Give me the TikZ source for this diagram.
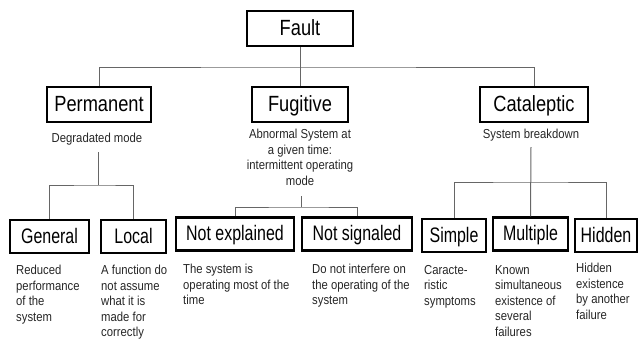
\documentclass[tikz,border=0pt]{standalone}
\usepackage{fontspec}
\newfontfamily\headfont[FakeStretch=0.83]{Liberation Sans}
\newfontfamily\leaffont[FakeStretch=0.76]{Liberation Sans}
\newfontfamily\notefont[FakeStretch=0.87]{Liberation Sans}
\begin{document}
\begin{tikzpicture}[x=1pt,y=-1pt,
  headbox/.style={draw,line width=2.3pt,inner sep=0pt,minimum height=35pt,
    text height=17pt,text depth=3pt,
    font=\headfont\fontsize{22}{24}\selectfont},
  leafbox/.style={draw,line width=2.3pt,inner sep=0pt,minimum height=33pt,
    text height=16pt,text depth=3pt,
    font=\leaffont\fontsize{21}{23}\selectfont},
  note/.style={inner sep=0pt,text=black!85,
    font=\notefont\fontsize{13}{15.5}\selectfont},
  link/.style={draw=black!60,line width=1pt}]
\useasboundingbox (0,0) rectangle (638,338);

% top level
\node[headbox,minimum width=106pt] (fault) at (300,28.5) {Fault};
\node[headbox,minimum width=104pt] (perm) at (99,104.5) {Permanent};
\node[headbox,minimum width=96pt]  (fug)  at (300,104.5) {Fugitive};
\node[headbox,minimum width=108pt] (cata) at (534,104.5) {Cataleptic};

% category descriptions
\node[note,anchor=north,align=center] (permd) at (97,133) {Degradated mode};
\node[note,anchor=north,align=center] (fugd) at (300,129)
  {Abnormal System at\\a given time:\\intermittent operating\\mode};
\node[note,anchor=north,align=center] (catad) at (531,129) {System breakdown};

% leaves
\node[leafbox,minimum width=79pt]  (gen)  at (49.5,236.5) {General};
\node[leafbox,minimum width=65pt]  (loc)  at (133.5,236.5) {Local};
\node[leafbox,minimum width=118pt] (nexp) at (235,234) {Not explained};
\node[leafbox,minimum width=110pt] (nsig) at (357,234) {Not signaled};
\node[leafbox,minimum width=64pt]  (simp) at (454,235.5) {Simple};
\node[leafbox,minimum width=75pt]  (mult) at (530.5,234) {Multiple};
\node[leafbox,minimum width=62pt]  (hid)  at (606,235.5) {Hidden};

% leaf descriptions
\node[note,anchor=north west,align=left] (gend) at (16,265)
  {Reduced\\performance\\of the\\system};
\node[note,anchor=north west,align=left] (locd) at (101,265)
  {A function do\\not assume\\what it is\\made for\\correctly};
\node[note,anchor=north west,align=left] (nexpd) at (183,264)
  {The system is\\operating most of the\\time};
\node[note,anchor=north west,align=left] (nsigd) at (312,264)
  {Do not interfere on\\the operating of the\\system};
\node[note,anchor=north west,align=left] (simpd) at (424,265)
  {Caracte-\\ristic\\symptoms};
\node[note,anchor=north west,align=left] (multd) at (495,265)
  {Known\\simultaneous\\existence of\\several\\failures};
\node[note,anchor=north west,align=left] (hidd) at (576,263)
  {Hidden\\existence\\by another\\failure};

% connectors
\coordinate (topbus) at (300,67);
\path[link] (fault.south) -- (fug.north);
\path[link] (perm.north) |- (topbus) -| (cata.north);

\coordinate (ptap) at (98,152);
\coordinate (pbus) at (98,185);
\path[link] (ptap) -- (pbus);
\path[link] (gen.north) |- (pbus) -| (loc.north);

\coordinate (ftap) at (301,196);
\coordinate (fbus) at (301,207);
\path[link] (ftap) -- (fbus);
\path[link] (nexp.north) |- (fbus) -| (nsig.north);

\coordinate (ctap) at (531,147);
\coordinate (cbus) at (531,182);
\path[link] (ctap) -- (mult.north);
\path[link] (simp.north) |- (cbus) -| (hid.north);
\end{tikzpicture}
\end{document}
